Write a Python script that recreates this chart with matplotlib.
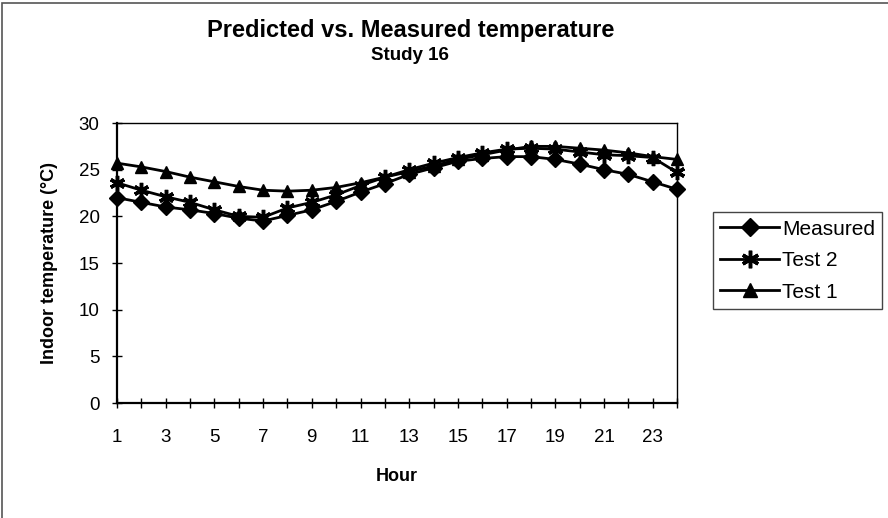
import matplotlib
matplotlib.use("Agg")
import matplotlib.pyplot as plt
from matplotlib.patches import Rectangle

plt.rcParams['font.family'] = ['Liberation Sans', 'DejaVu Sans']

hours = list(range(1, 25))
measured = [22.0, 21.5, 21.0, 20.7, 20.3, 19.8, 19.5, 20.1, 20.7, 21.6, 22.6, 23.5,
            24.5, 25.2, 25.9, 26.2, 26.4, 26.4, 26.1, 25.6, 25.0, 24.5, 23.7, 22.9]
test2 = [23.6, 22.8, 22.1, 21.5, 20.7, 20.0, 19.9, 20.9, 21.5, 22.3, 23.3, 24.2,
         25.0, 25.7, 26.3, 26.8, 27.2, 27.3, 27.2, 26.9, 26.6, 26.5, 26.3, 24.7]
test1 = [25.7, 25.3, 24.8, 24.2, 23.7, 23.2, 22.8, 22.7, 22.8, 23.1, 23.6, 24.2,
         24.8, 25.4, 26.1, 26.6, 27.1, 27.5, 27.5, 27.3, 27.1, 26.8, 26.4, 26.1]

fig = plt.figure(figsize=(8.88, 5.18), dpi=100)
ax = fig.add_axes([0.1318, 0.222, 0.6306, 0.5405])

ax.plot(hours, measured, color='black', lw=2, marker='D', ms=8, clip_on=False,
        label='Measured', zorder=3)
ax.plot(hours, test2, color='black', lw=2, marker=(6, 2, 0), ms=11, mew=2.5,
        clip_on=False, label='Test 2', zorder=3)
ax.plot(hours, test1, color='black', lw=2, marker='^', ms=9, clip_on=False,
        label='Test 1', zorder=3)

ax.set_xlim(1, 24)
ax.set_ylim(0, 30)
ax.set_xticks(hours)
ax.set_xticklabels([str(h) if h % 2 == 1 else '' for h in hours])
ax.set_yticks(range(0, 31, 5))
ax.tick_params(axis='both', direction='inout', length=7, width=1, labelsize=13.5,
               color='black')
ax.tick_params(axis='x', pad=15)
ax.tick_params(axis='y', pad=9)
for side in ['left', 'bottom']:
    ax.spines[side].set_linewidth(1.6)
for side in ['top', 'right']:
    ax.spines[side].set_linewidth(1.0)

ax.set_xlabel('Hour', fontsize=13, fontweight='bold', labelpad=16)
ax.set_ylabel('Indoor temperature (°C)', fontsize=13, fontweight='bold', labelpad=15)

fig.text(0.462, 0.941, 'Predicted vs. Measured temperature', ha='center', va='center',
         fontsize=17, fontweight='bold')
fig.text(0.462, 0.893, 'Study 16', ha='center', va='center', fontsize=13.5,
         fontweight='bold')

leg = fig.legend(loc='center left', bbox_to_anchor=(0.803, 0.497), fontsize=15,
                 handlelength=2.8, handletextpad=0.15, borderpad=0.35, labelspacing=0.6,
                 fancybox=False, framealpha=1, edgecolor='#444444', borderaxespad=0,
                 markerscale=1.15)
leg.get_frame().set_linewidth(1.0)

fig.patches.append(Rectangle((0.002, -0.01), 1.2, 1.005, transform=fig.transFigure,
                             fill=False, edgecolor='#555555', lw=1.2))

fig.savefig('out.png', dpi=100)
